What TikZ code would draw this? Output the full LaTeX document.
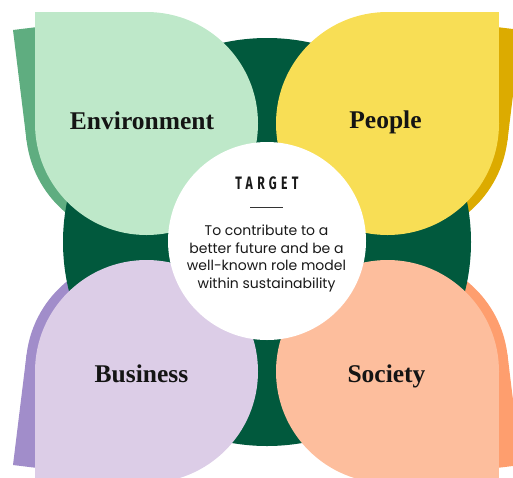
\documentclass[tikz,border=0pt]{standalone}
\usepackage{fontspec}
\setmainfont{Liberation Serif}
\newfontfamily\bodyfont{Poppins}
\newfontfamily\headfont{Fira Sans}[FakeStretch=0.68, LetterSpace=24]
\usepackage{tikz}
\usetikzlibrary{positioning}

\definecolor{ringgreen}{HTML}{01593D}
\definecolor{envlight}{HTML}{BEE8C9}
\definecolor{envdark}{HTML}{5FAD80}
\definecolor{peoplelight}{HTML}{F8DE55}
\definecolor{peopledark}{HTML}{DCAB00}
\definecolor{busilight}{HTML}{DCCDE7}
\definecolor{busidark}{HTML}{A18DCA}
\definecolor{socilight}{HTML}{FDBE9D}
\definecolor{socidark}{HTML}{FE9E6E}

% one leaf: square corner at the origin, round everywhere else
\tikzset{leaf/.pic={
  \path[pic actions] (0,0) rectangle (111.5,111.5);
  \path[pic actions] (111.5,111.5) circle[radius=111.5pt];
}}

\begin{document}
\begin{tikzpicture}[x=1pt, y=-1pt]
\tikzstyle{label}=[font=\fontsize{25.5}{28}\selectfont\bfseries, text=black!92, anchor=base]
\tikzstyle{target}=[draw=none, shape=circle, fill=white, minimum size=198pt, inner sep=0pt]
\tikzstyle{head}=[font=\headfont\bfseries\fontsize{18}{20}\selectfont, text=black!90]
\tikzstyle{body}=[font=\bodyfont\fontsize{14}{17.8}\selectfont, text=black!90, align=center]

\useasboundingbox (0,0) rectangle (513,477);
\clip (0,0) rectangle (513,477);

% tilted leaves behind
\pic[fill=envdark, shift={(13,30)}, rotate=7] {leaf};
\pic[fill=peopledark, shift={(521,30)}, xscale=-1, rotate=7] {leaf};
\pic[fill=busidark, shift={(13,465)}, yscale=-1, rotate=7] {leaf};
\pic[fill=socidark, shift={(521,465)}, xscale=-1, yscale=-1, rotate=7] {leaf};

\fill[ringgreen] (267,242) circle[radius=204pt];

% front leaves
\pic[fill=envlight, shift={(35,12)}] {leaf};
\pic[fill=peoplelight, shift={(499,12)}, xscale=-1] {leaf};
\pic[fill=busilight, shift={(35,483)}, yscale=-1] {leaf};
\pic[fill=socilight, shift={(499,483)}, xscale=-1, yscale=-1] {leaf};

\node[label] (0) at (142,129.5) {Environment};
\node[label] (1) at (385.5,128.5) {People};
\node[label] (2) at (141.5,382) {Business};
\node[label] (3) at (386.5,382) {Society};

\node[target] (4) at (267,241) {};
\node[head] (5) at (267,183) {TARGET};
\draw[black!80, line width=0.9pt] (250,207) -- (283,207);
\node[body] (6) at (266.5,258.5) {To contribute to a\\better future and be a\\well-known role model\\within sustainability};
%\draw[red] (4.north) -- (4.south);

\end{tikzpicture}
\end{document}
